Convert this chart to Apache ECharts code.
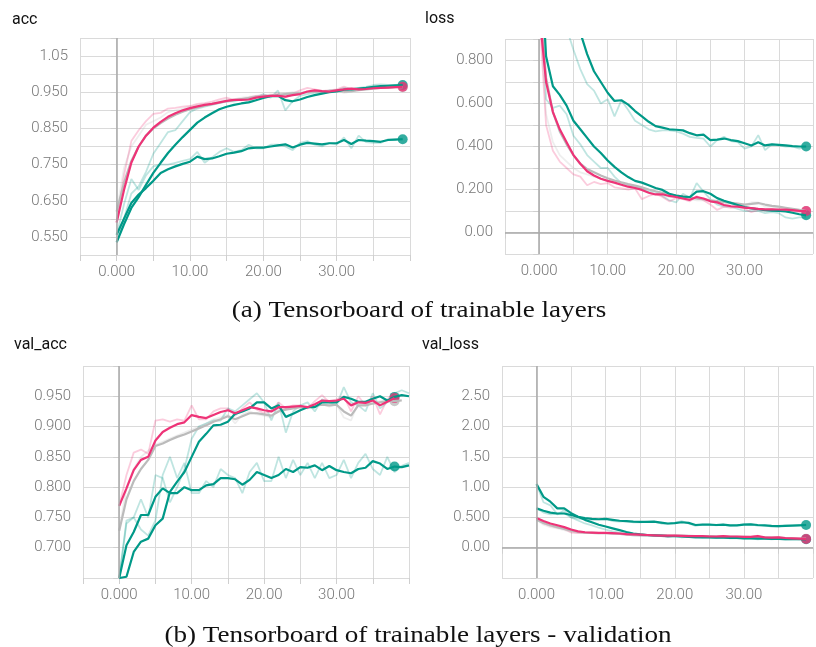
<!DOCTYPE html>
<html>
<head>
<meta charset="utf-8">
<script src="https://cdn.jsdelivr.net/npm/echarts@6/dist/echarts.min.js"></script>
<style>
  html, body { margin: 0; padding: 0; background: #fff; }
  #main { width: 816px; height: 647px; }
</style>
</head>
<body>
<div id="main"></div>
<script>
// ---- data: one value per epoch ----
// acc
const accPink = [0.590, 0.680, 0.755, 0.800, 0.830, 0.852, 0.868, 0.882, 0.892, 0.900, 0.906, 0.911, 0.915, 0.918, 0.922, 0.926, 0.929, 0.929, 0.930, 0.935, 0.938, 0.940, 0.940, 0.938, 0.942, 0.945, 0.952, 0.955, 0.953, 0.952, 0.955, 0.958, 0.960, 0.958, 0.959, 0.961, 0.962, 0.963, 0.964, 0.965];
const accPinkRaw = [0.590, 0.720, 0.815, 0.845, 0.870, 0.890, 0.893, 0.905, 0.907, 0.910, 0.912, 0.918, 0.920, 0.924, 0.930, 0.935, 0.928, 0.930, 0.935, 0.940, 0.942, 0.940, 0.946, 0.935, 0.946, 0.955, 0.962, 0.958, 0.954, 0.955, 0.958, 0.966, 0.958, 0.960, 0.962, 0.962, 0.965, 0.966, 0.966, 0.967];
const accGray = [0.620, 0.700, 0.760, 0.800, 0.830, 0.850, 0.865, 0.877, 0.888, 0.896, 0.903, 0.908, 0.913, 0.917, 0.921, 0.925, 0.928, 0.931, 0.934, 0.937, 0.939, 0.941, 0.943, 0.945, 0.947, 0.948, 0.950, 0.951, 0.952, 0.953, 0.954, 0.952, 0.953, 0.956, 0.958, 0.960, 0.962, 0.963, 0.964, 0.964];
const accGrayRaw = [0.620, 0.740, 0.800, 0.830, 0.860, 0.870, 0.880, 0.895, 0.900, 0.905, 0.910, 0.915, 0.918, 0.920, 0.925, 0.930, 0.930, 0.935, 0.937, 0.940, 0.940, 0.944, 0.945, 0.947, 0.950, 0.948, 0.952, 0.952, 0.953, 0.955, 0.955, 0.948, 0.952, 0.958, 0.960, 0.962, 0.965, 0.964, 0.965, 0.965];
const accTealA = [0.535, 0.585, 0.630, 0.660, 0.694, 0.727, 0.755, 0.782, 0.805, 0.826, 0.846, 0.866, 0.880, 0.892, 0.903, 0.910, 0.915, 0.919, 0.922, 0.928, 0.934, 0.939, 0.940, 0.928, 0.925, 0.930, 0.937, 0.942, 0.946, 0.950, 0.952, 0.957, 0.958, 0.960, 0.962, 0.965, 0.967, 0.968, 0.969, 0.970];
const accTealARaw = [0.535, 0.600, 0.670, 0.690, 0.730, 0.780, 0.810, 0.840, 0.845, 0.870, 0.895, 0.905, 0.910, 0.915, 0.920, 0.925, 0.925, 0.930, 0.925, 0.935, 0.945, 0.935, 0.955, 0.900, 0.925, 0.940, 0.945, 0.948, 0.950, 0.955, 0.955, 0.962, 0.960, 0.962, 0.965, 0.970, 0.972, 0.970, 0.970, 0.972];
const accTealB = [0.556, 0.600, 0.644, 0.667, 0.685, 0.705, 0.727, 0.737, 0.745, 0.752, 0.758, 0.772, 0.765, 0.767, 0.773, 0.780, 0.783, 0.787, 0.795, 0.797, 0.797, 0.800, 0.803, 0.806, 0.797, 0.805, 0.810, 0.808, 0.806, 0.809, 0.809, 0.818, 0.807, 0.818, 0.816, 0.815, 0.813, 0.818, 0.819, 0.820];
const accTealBRaw = [0.556, 0.640, 0.710, 0.680, 0.720, 0.745, 0.750, 0.750, 0.755, 0.760, 0.765, 0.785, 0.755, 0.770, 0.785, 0.795, 0.785, 0.790, 0.805, 0.795, 0.795, 0.805, 0.805, 0.800, 0.790, 0.810, 0.815, 0.805, 0.800, 0.810, 0.805, 0.825, 0.795, 0.830, 0.812, 0.810, 0.810, 0.820, 0.820, 0.822];

// loss
const lossPink = [1.03, 0.70, 0.56, 0.48, 0.42, 0.36, 0.32, 0.285, 0.265, 0.25, 0.24, 0.232, 0.222, 0.213, 0.207, 0.198, 0.185, 0.177, 0.178, 0.170, 0.165, 0.158, 0.152, 0.165, 0.158, 0.145, 0.140, 0.128, 0.122, 0.120, 0.116, 0.113, 0.110, 0.108, 0.108, 0.107, 0.106, 0.104, 0.101, 0.100];
const lossPinkRaw = [1.03, 0.50, 0.38, 0.33, 0.30, 0.27, 0.26, 0.22, 0.235, 0.225, 0.23, 0.21, 0.205, 0.20, 0.205, 0.155, 0.17, 0.18, 0.165, 0.145, 0.16, 0.155, 0.145, 0.17, 0.15, 0.13, 0.105, 0.12, 0.115, 0.12, 0.11, 0.095, 0.105, 0.105, 0.11, 0.10, 0.10, 0.10, 0.095, 0.09];
const lossGray = [1.10, 0.72, 0.56, 0.47, 0.41, 0.36, 0.32, 0.295, 0.28, 0.265, 0.252, 0.242, 0.233, 0.225, 0.218, 0.21, 0.20, 0.192, 0.185, 0.178, 0.172, 0.168, 0.163, 0.158, 0.155, 0.15, 0.146, 0.142, 0.138, 0.134, 0.13, 0.133, 0.137, 0.13, 0.124, 0.12, 0.115, 0.11, 0.105, 0.10];
const lossGrayRaw = [1.10, 0.55, 0.42, 0.36, 0.33, 0.30, 0.28, 0.27, 0.26, 0.25, 0.24, 0.23, 0.22, 0.21, 0.21, 0.20, 0.185, 0.18, 0.175, 0.165, 0.165, 0.16, 0.155, 0.15, 0.15, 0.145, 0.14, 0.135, 0.13, 0.13, 0.125, 0.14, 0.14, 0.12, 0.12, 0.115, 0.11, 0.105, 0.10, 0.095];
const lossTealA = [1.40, 0.82, 0.68, 0.64, 0.59, 0.52, 0.48, 0.44, 0.40, 0.37, 0.335, 0.305, 0.28, 0.258, 0.24, 0.232, 0.22, 0.207, 0.198, 0.18, 0.172, 0.167, 0.165, 0.19, 0.192, 0.18, 0.16, 0.148, 0.138, 0.128, 0.118, 0.112, 0.108, 0.104, 0.102, 0.10, 0.098, 0.092, 0.085, 0.08];
const lossTealARaw = [1.40, 0.62, 0.58, 0.59, 0.55, 0.45, 0.41, 0.36, 0.33, 0.30, 0.30, 0.26, 0.23, 0.22, 0.21, 0.205, 0.19, 0.19, 0.17, 0.15, 0.14, 0.18, 0.16, 0.23, 0.19, 0.155, 0.13, 0.12, 0.12, 0.11, 0.10, 0.10, 0.10, 0.09, 0.095, 0.09, 0.07, 0.065, 0.07, 0.07];
const lossTealB = [2.50, 2.00, 1.65, 1.40, 1.20, 1.05, 0.93, 0.83, 0.75, 0.70, 0.65, 0.612, 0.615, 0.595, 0.565, 0.54, 0.515, 0.495, 0.488, 0.48, 0.478, 0.475, 0.462, 0.452, 0.455, 0.43, 0.432, 0.437, 0.43, 0.425, 0.415, 0.405, 0.42, 0.405, 0.41, 0.408, 0.405, 0.402, 0.40, 0.40];
const lossTealBRaw = [2.00, 1.60, 1.30, 1.10, 0.95, 0.85, 0.76, 0.69, 0.66, 0.60, 0.62, 0.54, 0.615, 0.57, 0.52, 0.50, 0.48, 0.47, 0.475, 0.475, 0.47, 0.46, 0.445, 0.44, 0.437, 0.40, 0.43, 0.445, 0.425, 0.42, 0.39, 0.40, 0.453, 0.383, 0.41, 0.405, 0.40, 0.40, 0.39, 0.40];

// val_acc
const vaccPink = [0.769, 0.798, 0.828, 0.845, 0.850, 0.877, 0.891, 0.898, 0.904, 0.907, 0.919, 0.916, 0.914, 0.919, 0.924, 0.927, 0.922, 0.927, 0.932, 0.930, 0.927, 0.925, 0.932, 0.932, 0.933, 0.934, 0.932, 0.937, 0.943, 0.942, 0.943, 0.946, 0.935, 0.940, 0.939, 0.943, 0.935, 0.941, 0.947];
const vaccPinkRaw = [0.769, 0.820, 0.857, 0.862, 0.855, 0.910, 0.912, 0.908, 0.912, 0.910, 0.935, 0.912, 0.912, 0.925, 0.930, 0.930, 0.918, 0.930, 0.940, 0.928, 0.922, 0.925, 0.940, 0.930, 0.935, 0.935, 0.930, 0.942, 0.952, 0.940, 0.945, 0.950, 0.925, 0.950, 0.935, 0.950, 0.920, 0.945, 0.955];
const vaccGray = [0.728, 0.780, 0.810, 0.830, 0.845, 0.868, 0.872, 0.878, 0.883, 0.887, 0.892, 0.897, 0.902, 0.908, 0.912, 0.917, 0.912, 0.917, 0.922, 0.922, 0.920, 0.918, 0.925, 0.928, 0.930, 0.932, 0.932, 0.934, 0.936, 0.935, 0.936, 0.925, 0.918, 0.935, 0.935, 0.938, 0.940, 0.942, 0.942, 0.943];
const vaccGrayRaw = [0.728, 0.800, 0.830, 0.850, 0.860, 0.870, 0.875, 0.880, 0.885, 0.890, 0.895, 0.900, 0.905, 0.912, 0.915, 0.920, 0.905, 0.920, 0.925, 0.920, 0.918, 0.915, 0.930, 0.930, 0.932, 0.935, 0.930, 0.935, 0.938, 0.933, 0.937, 0.915, 0.910, 0.940, 0.935, 0.940, 0.942, 0.944, 0.943, 0.944];
const vaccTealA = [0.650, 0.652, 0.693, 0.710, 0.715, 0.737, 0.748, 0.792, 0.809, 0.825, 0.850, 0.875, 0.888, 0.902, 0.903, 0.908, 0.921, 0.925, 0.930, 0.940, 0.940, 0.930, 0.935, 0.916, 0.921, 0.927, 0.932, 0.932, 0.940, 0.940, 0.940, 0.949, 0.946, 0.941, 0.941, 0.946, 0.950, 0.943, 0.949, 0.952, 0.950];
const vaccTealARaw = [0.650, 0.745, 0.750, 0.780, 0.750, 0.820, 0.815, 0.775, 0.800, 0.830, 0.880, 0.900, 0.905, 0.910, 0.910, 0.930, 0.925, 0.935, 0.945, 0.955, 0.940, 0.910, 0.940, 0.890, 0.925, 0.935, 0.940, 0.925, 0.945, 0.940, 0.935, 0.965, 0.940, 0.935, 0.925, 0.955, 0.930, 0.940, 0.955, 0.960, 0.955];
const vaccTealB = [0.650, 0.704, 0.726, 0.754, 0.754, 0.784, 0.798, 0.790, 0.790, 0.800, 0.795, 0.795, 0.803, 0.805, 0.815, 0.815, 0.813, 0.804, 0.812, 0.825, 0.820, 0.815, 0.820, 0.830, 0.825, 0.833, 0.832, 0.836, 0.828, 0.835, 0.828, 0.825, 0.823, 0.830, 0.832, 0.843, 0.839, 0.830, 0.834, 0.833, 0.836];
const vaccTealBRaw = [0.650, 0.740, 0.750, 0.730, 0.720, 0.745, 0.820, 0.850, 0.815, 0.840, 0.790, 0.790, 0.810, 0.800, 0.830, 0.820, 0.815, 0.790, 0.825, 0.840, 0.810, 0.810, 0.850, 0.815, 0.845, 0.820, 0.840, 0.815, 0.840, 0.815, 0.820, 0.845, 0.815, 0.840, 0.855, 0.830, 0.820, 0.850, 0.825, 0.835, 0.840];

// val_loss
const vlossPink = [0.49, 0.44, 0.40, 0.37, 0.34, 0.30, 0.27, 0.255, 0.25, 0.245, 0.245, 0.24, 0.235, 0.225, 0.22, 0.215, 0.21, 0.205, 0.20, 0.20, 0.20, 0.195, 0.19, 0.19, 0.19, 0.185, 0.185, 0.19, 0.185, 0.185, 0.18, 0.18, 0.19, 0.17, 0.165, 0.17, 0.16, 0.155, 0.15, 0.145];
const vlossPinkRaw = [0.49, 0.40, 0.36, 0.33, 0.31, 0.25, 0.24, 0.24, 0.24, 0.24, 0.245, 0.23, 0.23, 0.21, 0.21, 0.20, 0.20, 0.20, 0.19, 0.18, 0.20, 0.185, 0.18, 0.19, 0.18, 0.18, 0.18, 0.19, 0.18, 0.18, 0.17, 0.18, 0.20, 0.15, 0.16, 0.17, 0.15, 0.15, 0.14, 0.14];
const vlossGray = [0.46, 0.41, 0.37, 0.34, 0.31, 0.28, 0.26, 0.25, 0.245, 0.24, 0.24, 0.235, 0.23, 0.225, 0.22, 0.215, 0.21, 0.205, 0.205, 0.20, 0.20, 0.20, 0.195, 0.19, 0.19, 0.19, 0.185, 0.185, 0.18, 0.18, 0.18, 0.175, 0.17, 0.17, 0.165, 0.165, 0.16, 0.155, 0.15, 0.15];
const vlossGrayRaw = [0.46, 0.38, 0.34, 0.32, 0.29, 0.26, 0.25, 0.24, 0.24, 0.235, 0.24, 0.23, 0.225, 0.22, 0.215, 0.21, 0.205, 0.20, 0.205, 0.195, 0.20, 0.20, 0.19, 0.185, 0.19, 0.19, 0.18, 0.185, 0.175, 0.18, 0.18, 0.17, 0.165, 0.17, 0.16, 0.165, 0.155, 0.15, 0.145, 0.15];
const vlossTealA = [1.05, 0.84, 0.76, 0.65, 0.65, 0.57, 0.51, 0.46, 0.42, 0.38, 0.35, 0.32, 0.29, 0.26, 0.235, 0.22, 0.21, 0.205, 0.20, 0.19, 0.19, 0.185, 0.18, 0.175, 0.17, 0.17, 0.165, 0.165, 0.16, 0.16, 0.155, 0.155, 0.15, 0.15, 0.145, 0.145, 0.14, 0.14, 0.14, 0.14];
const vlossTealARaw = [1.05, 0.75, 0.70, 0.55, 0.62, 0.50, 0.45, 0.40, 0.37, 0.33, 0.30, 0.27, 0.25, 0.22, 0.20, 0.20, 0.19, 0.20, 0.19, 0.18, 0.19, 0.17, 0.18, 0.16, 0.17, 0.165, 0.16, 0.17, 0.155, 0.16, 0.15, 0.155, 0.14, 0.15, 0.14, 0.145, 0.135, 0.14, 0.14, 0.135];
const vlossTealB = [0.65, 0.61, 0.58, 0.565, 0.565, 0.54, 0.51, 0.49, 0.475, 0.47, 0.475, 0.46, 0.445, 0.44, 0.43, 0.425, 0.425, 0.43, 0.415, 0.40, 0.405, 0.42, 0.41, 0.375, 0.38, 0.38, 0.375, 0.38, 0.37, 0.37, 0.38, 0.385, 0.375, 0.37, 0.36, 0.355, 0.36, 0.365, 0.37, 0.375];
const vlossTealBRaw = [0.65, 0.58, 0.55, 0.56, 0.57, 0.50, 0.48, 0.47, 0.46, 0.47, 0.48, 0.44, 0.43, 0.44, 0.42, 0.42, 0.43, 0.43, 0.40, 0.39, 0.41, 0.44, 0.40, 0.36, 0.38, 0.38, 0.37, 0.38, 0.36, 0.37, 0.39, 0.39, 0.36, 0.37, 0.35, 0.35, 0.37, 0.37, 0.375, 0.38];

// tick labels
const xTicks = [0, 10, 20, 30];
const xTickLabels = ['0.000', '10.00', '20.00', '30.00'];
const accTicks = [0.55, 0.65, 0.75, 0.85, 0.95, 1.05];
const accTickLabels = ['0.550', '0.650', '0.750', '0.850', '0.950', '1.05'];
const lossTicks = [0, 0.2, 0.4, 0.6, 0.8];
const lossTickLabels = ['0.00', '0.200', '0.400', '0.600', '0.800'];
const vaccTicks = [0.7, 0.75, 0.8, 0.85, 0.9, 0.95];
const vaccTickLabels = ['0.700', '0.750', '0.800', '0.850', '0.900', '0.950'];
const vlossTicks = [0, 0.5, 1, 1.5, 2, 2.5];
const vlossTickLabels = ['0.00', '0.500', '1.00', '1.50', '2.00', '2.50'];

const TEAL = '#009988', PINK = '#ee3377', GRAY = '#bbbbbb';
const GRID_C = '#dadada', ZERO_C = '#a8a8a8', LABEL_C = '#777777';

function pairs(arr) {
  return arr.map(function (v, i) { return [i, v]; });
}
function labeler(ticks, labels) {
  return function (v) {
    for (let k = 0; k < ticks.length; k++) {
      if (Math.abs(v - ticks[k]) < 1e-6) return labels[k];
    }
    return '';
  };
}

const chart = echarts.init(document.getElementById('main'));

// panels: grid geometry + y range
const panels = [
  { grid: { left: 80, top: 38, width: 330, height: 217 }, y: [0.5, 1.1, 0.05], ticks: accTicks, labels: accTickLabels, zeroY: false,
    runs: [[accGrayRaw, accGray, GRAY], [accTealARaw, accTealA, TEAL], [accTealBRaw, accTealB, TEAL], [accPinkRaw, accPink, PINK]], dot: 39 },
  { grid: { left: 505, top: 39, width: 318, height: 215 }, y: [-0.1, 0.9, 0.1], ticks: lossTicks, labels: lossTickLabels, zeroY: true,
    runs: [[lossGrayRaw, lossGray, GRAY], [lossTealBRaw, lossTealB, TEAL], [lossTealARaw, lossTealA, TEAL], [lossPinkRaw, lossPink, PINK]], dot: 39 },
  { grid: { left: 83, top: 366, width: 326, height: 212 }, y: [0.65, 1.0, 0.05], ticks: vaccTicks, labels: vaccTickLabels, zeroY: false,
    runs: [[vaccGrayRaw, vaccGray, GRAY], [vaccTealBRaw, vaccTealB, TEAL], [vaccTealARaw, vaccTealA, TEAL], [vaccPinkRaw, vaccPink, PINK]], dot: 38 },
  { grid: { left: 502, top: 366, width: 315, height: 212 }, y: [-0.5, 3.0, 0.5], ticks: vlossTicks, labels: vlossTickLabels, zeroY: true,
    runs: [[vlossGrayRaw, vlossGray, GRAY], [vlossTealARaw, vlossTealA, TEAL], [vlossTealBRaw, vlossTealB, TEAL], [vlossPinkRaw, vlossPink, PINK]], dot: 39 }
];

const grids = [], xAxes = [], yAxes = [], series = [];
panels.forEach(function (p, gi) {
  grids.push(p.grid);
  xAxes.push({
    gridIndex: gi, type: 'value', min: -5, max: 40, interval: 5,
    axisLine: { show: false },
    axisTick: { show: true, length: 6, lineStyle: { color: '#cfcfcf' } },
    axisLabel: { formatter: labeler(xTicks, xTickLabels), color: LABEL_C, fontSize: 15, fontFamily: 'Roboto', fontWeight: 300, margin: 10 },
    splitLine: { show: true, lineStyle: { color: GRID_C, width: 1 } }
  });
  yAxes.push({
    gridIndex: gi, type: 'value', min: p.y[0], max: p.y[1], interval: p.y[2],
    axisLine: { show: false },
    axisTick: { show: true, length: 6, lineStyle: { color: '#cfcfcf' } },
    axisLabel: { formatter: labeler(p.ticks, p.labels), color: LABEL_C, fontSize: 15, fontFamily: 'Roboto', fontWeight: 300, margin: 12 },
    splitLine: { show: true, lineStyle: { color: GRID_C, width: 1 } }
  });
  const zeroLines = [{ xAxis: 0 }];
  if (p.zeroY) zeroLines.push({ yAxis: 0 });
  // raw (unsmoothed) curves, faded
  p.runs.forEach(function (r, k) {
    const s = {
      type: 'line', xAxisIndex: gi, yAxisIndex: gi, data: pairs(r[0]),
      showSymbol: false, silent: true, clip: true,
      lineStyle: { color: r[2], width: 1.8, opacity: 0.25 }
    };
    if (k === 0) {
      s.markLine = { silent: true, symbol: 'none', label: { show: false },
        lineStyle: { color: ZERO_C, width: 1.5, type: 'solid', opacity: 1 }, data: zeroLines };
    }
    series.push(s);
  });
  // smoothed curves
  p.runs.forEach(function (r) {
    series.push({
      type: 'line', xAxisIndex: gi, yAxisIndex: gi, data: pairs(r[1]),
      showSymbol: false, silent: true, clip: true,
      lineStyle: { color: r[2], width: 2.2 }
    });
  });
  // end dots
  p.runs.forEach(function (r) {
    const i = Math.min(p.dot, r[1].length - 1);
    series.push({
      type: 'scatter', xAxisIndex: gi, yAxisIndex: gi, data: [[i, r[1][i]]],
      symbolSize: 10, silent: true, clip: false,
      itemStyle: { color: r[2] }
    });
  });
});

const titleStyle = { fontFamily: 'Roboto', fontSize: 16, fontWeight: 'normal', color: '#111' };

function caption(text, x, y) {
  return {
    type: 'text', x: x, y: y, scaleX: 1.13, silent: true,
    style: { text: text, fontFamily: 'Liberation Serif', fontSize: 24, fill: '#111',
      textAlign: 'center', textVerticalAlign: 'middle' }
  };
}

chart.setOption({
  backgroundColor: '#fff',
  animation: false,
  title: [
    { text: 'acc', left: 7, top: 7, textStyle: titleStyle },
    { text: 'loss', left: 420, top: 6, textStyle: titleStyle },
    { text: 'val_acc', left: 9, top: 332, textStyle: titleStyle },
    { text: 'val_loss', left: 417, top: 332, textStyle: titleStyle }
  ],
  graphic: [
    caption('(a) Tensorboard of trainable layers', 419, 311),
    caption('(b) Tensorboard of trainable layers - validation', 418, 636)
  ],
  grid: grids,
  xAxis: xAxes,
  yAxis: yAxes,
  series: series
});
</script>
</body>
</html>
